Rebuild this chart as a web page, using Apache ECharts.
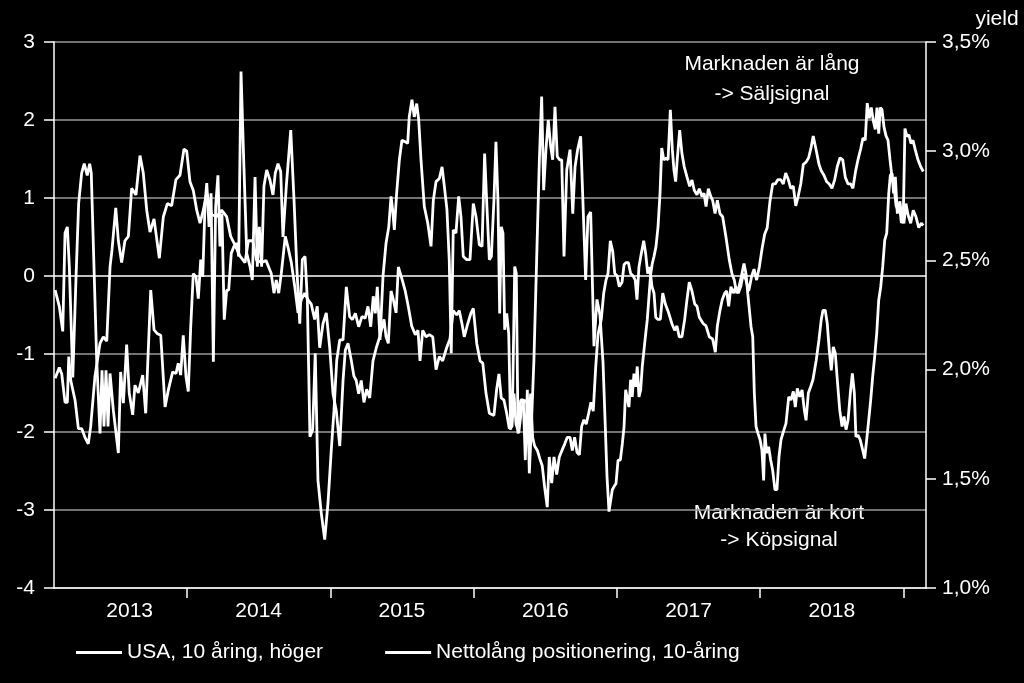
<!DOCTYPE html>
<html>
<head>
<meta charset="utf-8">
<title>Nettolång positionering, 10-åring</title>
<script src="https://cdn.jsdelivr.net/npm/echarts@6/dist/echarts.min.js"></script>
<style>
  html, body { margin: 0; padding: 0; background: #000; }
  #chart { width: 1024px; height: 683px; }
</style>
</head>
<body>
<div id="chart"></div>
<script>
'use strict';

// Decimal-year ticks / labels for the x axis
const yearTicks = [2014, 2015, 2016, 2017, 2018, 2019];
const yearLabelAt = [2013.6, 2014.5, 2015.5, 2016.5, 2017.5, 2018.5];

// Vänster axel: nettolång positionering (weekly)
const netPositioning = [
  [2013.080,-0.18],[2013.109,-0.39],[2013.133,-0.71],[2013.149,0.55],[2013.165,0.63],[2013.179,0.12],
  [2013.203,-1.30],[2013.226,0.00],[2013.244,0.93],[2013.265,1.32],[2013.283,1.44],[2013.304,1.29],
  [2013.321,1.44],[2013.332,1.32],[2013.370,-1.08],[2013.393,-2.02],[2013.407,-1.21],[2013.421,-1.93],
  [2013.435,-1.21],[2013.449,-1.93],[2013.463,-1.25],[2013.486,-1.72],[2013.521,-2.27],[2013.537,-1.23],
  [2013.556,-1.63],[2013.579,-0.88],[2013.597,-1.50],[2013.621,-1.78],[2013.637,-1.40],[2013.660,-1.50],
  [2013.691,-1.27],[2013.712,-1.76],[2013.747,-0.18],[2013.770,-0.69],[2013.793,-0.74],[2013.817,-0.76],
  [2013.847,-1.68],[2013.870,-1.46],[2013.900,-1.23],[2013.923,-1.25],[2013.939,-1.12],[2013.956,-1.27],
  [2013.974,-0.76],[2013.993,-1.29],[2014.009,-1.48],[2014.026,-0.65],[2014.044,0.03],[2014.063,-0.01],
  [2014.079,-0.29],[2014.096,0.21],[2014.110,-0.01],[2014.126,0.93],[2014.138,1.19],[2014.154,0.63],
  [2014.168,1.06],[2014.184,-1.10],[2014.200,0.89],[2014.216,1.29],[2014.230,0.38],[2014.244,0.80],
  [2014.260,-0.56],[2014.277,-0.18],[2014.291,-0.18],[2014.309,0.29],[2014.328,0.38],[2014.347,0.42],
  [2014.361,0.25],[2014.377,2.62],[2014.398,1.36],[2014.417,0.29],[2014.440,0.12],[2014.456,-0.05],
  [2014.475,1.27],[2014.491,0.12],[2014.505,0.63],[2014.521,0.12],[2014.537,1.15],[2014.556,1.36],
  [2014.579,1.23],[2014.600,1.04],[2014.616,1.32],[2014.635,1.44],[2014.654,1.34],[2014.670,0.50],
  [2014.693,1.15],[2014.724,1.87],[2014.747,0.97],[2014.766,0.12],[2014.787,-0.61],[2014.805,0.21],
  [2014.824,0.25],[2014.840,-0.31],[2014.858,-2.06],[2014.877,-1.97],[2014.895,-0.99],[2014.914,-2.62],
  [2014.937,-3.04],[2014.961,-3.38],[2014.984,-2.91],[2015.007,-2.23],[2015.026,-1.72],[2015.045,-1.08],
  [2015.066,-0.82],[2015.089,-0.82],[2015.112,-0.14],[2015.135,-0.52],[2015.154,-0.56],[2015.175,-0.48],
  [2015.198,-0.65],[2015.221,-0.52],[2015.244,-0.54],[2015.263,-0.39],[2015.282,-0.65],[2015.300,-0.26],
  [2015.314,-0.48],[2015.328,-0.14],[2015.347,-0.82],[2015.368,0.00],[2015.389,0.42],[2015.408,0.63],
  [2015.424,1.02],[2015.435,0.85],[2015.447,0.59],[2015.463,1.06],[2015.482,1.49],[2015.500,1.74],
  [2015.523,1.72],[2015.540,1.70],[2015.551,2.04],[2015.570,2.26],[2015.586,2.04],[2015.603,2.21],
  [2015.617,2.00],[2015.633,1.49],[2015.656,0.89],[2015.680,0.68],[2015.703,0.38],[2015.719,0.97],
  [2015.738,1.21],[2015.761,1.25],[2015.780,1.40],[2015.796,1.15],[2015.814,0.85],[2015.830,0.21],
  [2015.844,-0.99],[2015.858,0.59],[2015.877,0.55],[2015.896,1.02],[2015.912,0.76],[2015.928,0.25],
  [2015.952,0.21],[2015.975,0.21],[2015.998,0.93],[2016.017,0.76],[2016.040,0.40],[2016.059,0.38],
  [2016.077,1.57],[2016.091,0.97],[2016.110,0.21],[2016.124,0.25],[2016.142,0.97],[2016.156,1.72],
  [2016.170,0.97],[2016.182,-0.48],[2016.193,0.63],[2016.205,0.55],[2016.217,-0.69],[2016.231,-0.48],
  [2016.245,-0.74],[2016.259,-1.97],[2016.273,-1.50],[2016.287,0.12],[2016.298,0.03],[2016.310,-2.02],
  [2016.329,-1.59],[2016.347,-1.59],[2016.361,-2.36],[2016.375,-1.46],[2016.389,-2.53],[2016.403,-1.93],
  [2016.421,-1.08],[2016.440,0.21],[2016.459,1.49],[2016.475,2.30],[2016.489,1.10],[2016.505,1.62],
  [2016.521,2.00],[2016.538,1.66],[2016.552,1.49],[2016.568,2.17],[2016.584,1.53],[2016.601,1.49],
  [2016.615,1.49],[2016.631,0.25],[2016.650,1.36],[2016.673,1.62],[2016.692,0.80],[2016.708,1.40],
  [2016.726,1.62],[2016.747,1.79],[2016.765,0.85],[2016.782,-0.05],[2016.798,0.76],[2016.817,0.82],
  [2016.840,-0.90],[2016.861,-0.30],[2016.882,-0.50],[2016.903,-1.10],[2016.919,-1.93],[2016.931,-2.57],
  [2016.945,-3.02],[2016.957,-3.04],[2016.968,-2.74],[2016.980,-2.70],[2016.994,-2.66],[2017.008,-2.36],
  [2017.024,-2.36],[2017.038,-2.15],[2017.050,-1.93],[2017.061,-1.46],[2017.073,-1.46],[2017.084,-1.68],
  [2017.096,-1.33],[2017.107,-1.55],[2017.119,-1.25],[2017.131,-1.42],[2017.142,-1.16],[2017.154,-1.55],
  [2017.166,-1.46],[2017.177,-1.16],[2017.189,-0.95],[2017.201,-0.74],[2017.212,-0.56],[2017.224,-0.26],
  [2017.236,0.03],[2017.247,0.16],[2017.259,0.25],[2017.273,0.38],[2017.287,0.63],[2017.301,1.06],
  [2017.313,1.64],[2017.327,1.49],[2017.343,1.51],[2017.357,1.49],[2017.373,2.13],[2017.387,1.62],
  [2017.398,1.36],[2017.410,1.21],[2017.421,1.49],[2017.438,1.87],[2017.454,1.57],[2017.470,1.40],
  [2017.489,1.27],[2017.508,1.15],[2017.524,1.23],[2017.540,1.10],[2017.559,1.04],[2017.575,1.12],
  [2017.594,1.02],[2017.608,1.06],[2017.622,0.89],[2017.638,1.12],[2017.655,1.02],[2017.668,0.97],
  [2017.685,0.80],[2017.701,0.97],[2017.719,0.80],[2017.738,0.76],[2017.761,0.50],[2017.784,0.21],
  [2017.803,0.03],[2017.819,-0.05],[2017.836,-0.22],[2017.852,-0.14],[2017.868,-0.01],[2017.887,0.16],
  [2017.901,0.03],[2017.913,-0.22],[2017.924,-0.22],[2017.936,-0.65],[2017.948,-0.78],[2017.959,-1.50],
  [2017.971,-1.93],[2017.985,-2.02],[2017.999,-2.10],[2018.012,-2.23],[2018.024,-2.62],[2018.033,-2.02],
  [2018.045,-2.27],[2018.059,-2.19],[2018.073,-2.36],[2018.087,-2.49],[2018.103,-2.74],[2018.117,-2.74],
  [2018.131,-2.32],[2018.145,-2.10],[2018.161,-2.00],[2018.180,-1.89],[2018.199,-1.55],[2018.215,-1.59],
  [2018.231,-1.48],[2018.245,-1.68],[2018.259,-1.44],[2018.276,-1.55],[2018.292,-1.46],[2018.308,-1.72],
  [2018.320,-1.85],[2018.336,-1.50],[2018.352,-1.42],[2018.368,-1.33],[2018.391,-1.08],[2018.410,-0.82],
  [2018.426,-0.56],[2018.438,-0.44],[2018.454,-0.44],[2018.468,-0.61],[2018.482,-0.95],[2018.496,-1.21],
  [2018.510,-0.91],[2018.524,-0.99],[2018.538,-1.33],[2018.555,-1.72],[2018.571,-1.93],[2018.585,-1.80],
  [2018.599,-1.97],[2018.613,-1.85],[2018.629,-1.50],[2018.643,-1.25],[2018.657,-1.50],[2018.668,-2.06],
  [2018.682,-2.04],[2018.698,-2.10],[2018.715,-2.23],[2018.729,-2.34],[2018.743,-2.10],[2018.757,-1.85],
  [2018.771,-1.59],[2018.785,-1.29],[2018.799,-1.03],[2018.813,-0.74],[2018.827,-0.31],[2018.841,-0.14],
  [2018.855,0.12],[2018.869,0.46],[2018.883,0.55],[2018.897,1.06],[2018.908,1.29],[2018.920,1.32],
  [2018.931,1.06],[2018.943,1.27],[2018.957,0.80],[2018.971,0.93],[2018.985,0.68],[2018.998,0.72],
  [2019.010,1.89],[2019.024,1.79],[2019.038,1.81],[2019.052,1.70],[2019.066,1.74],[2019.082,1.62],
  [2019.101,1.49],[2019.120,1.40],[2019.138,1.34]
];

// Höger axel: USA 10-årig ränta, procent
const usaYield = [
  [2013.080,1.96],[2013.109,2.01],[2013.126,1.98],[2013.149,1.85],[2013.165,1.85],[2013.175,2.06],
  [2013.189,1.95],[2013.219,1.86],[2013.242,1.73],[2013.265,1.73],[2013.288,1.69],[2013.311,1.66],
  [2013.328,1.74],[2013.358,1.97],[2013.393,2.12],[2013.416,2.15],[2013.440,2.13],[2013.463,2.47],
  [2013.477,2.55],[2013.503,2.74],[2013.521,2.59],[2013.544,2.49],[2013.567,2.59],[2013.591,2.61],
  [2013.614,2.83],[2013.644,2.80],[2013.672,2.98],[2013.695,2.90],[2013.719,2.73],[2013.742,2.63],
  [2013.770,2.69],[2013.807,2.51],[2013.835,2.70],[2013.863,2.76],[2013.893,2.75],[2013.923,2.87],
  [2013.951,2.89],[2013.979,3.01],[2013.998,3.00],[2014.021,2.86],[2014.044,2.82],[2014.068,2.73],
  [2014.091,2.67],[2014.114,2.73],[2014.138,2.81],[2014.172,2.71],[2014.207,2.70],[2014.242,2.73],
  [2014.277,2.70],[2014.305,2.61],[2014.335,2.57],[2014.370,2.52],[2014.405,2.49],[2014.428,2.59],
  [2014.459,2.59],[2014.486,2.50],[2014.521,2.49],[2014.551,2.50],[2014.588,2.44],[2014.607,2.35],
  [2014.623,2.41],[2014.640,2.35],[2014.658,2.44],[2014.686,2.61],[2014.705,2.56],[2014.728,2.49],
  [2014.752,2.38],[2014.775,2.26],[2014.798,2.32],[2014.821,2.35],[2014.844,2.32],[2014.867,2.30],
  [2014.891,2.23],[2014.909,2.29],[2014.926,2.10],[2014.949,2.21],[2014.972,2.26],[2014.996,2.10],
  [2015.019,1.89],[2015.042,1.81],[2015.066,1.65],[2015.089,1.95],[2015.105,2.09],[2015.124,2.12],
  [2015.147,2.04],[2015.165,1.97],[2015.181,1.95],[2015.198,1.89],[2015.216,1.95],[2015.235,1.85],
  [2015.254,1.91],[2015.275,1.87],[2015.298,2.04],[2015.321,2.10],[2015.345,2.15],[2015.375,2.23],
  [2015.389,2.15],[2015.405,2.12],[2015.424,2.36],[2015.440,2.32],[2015.459,2.26],[2015.475,2.47],
  [2015.498,2.42],[2015.523,2.36],[2015.544,2.29],[2015.568,2.20],[2015.593,2.16],[2015.612,2.18],
  [2015.626,2.04],[2015.645,2.18],[2015.668,2.15],[2015.691,2.16],[2015.715,2.15],[2015.738,2.00],
  [2015.761,2.06],[2015.784,2.04],[2015.812,2.10],[2015.835,2.14],[2015.858,2.27],[2015.882,2.25],
  [2015.900,2.27],[2015.919,2.21],[2015.935,2.15],[2015.959,2.21],[2015.982,2.26],[2015.998,2.28],
  [2016.022,2.12],[2016.045,2.04],[2016.064,2.03],[2016.087,1.89],[2016.110,1.80],[2016.142,1.79],
  [2016.161,1.91],[2016.177,1.98],[2016.193,1.87],[2016.212,1.86],[2016.231,1.80],[2016.249,1.73],
  [2016.268,1.74],[2016.282,1.89],[2016.296,1.75],[2016.315,1.71],[2016.333,1.81],[2016.352,1.86],
  [2016.371,1.85],[2016.385,1.69],[2016.398,1.89],[2016.412,1.69],[2016.426,1.65],[2016.445,1.63],
  [2016.463,1.59],[2016.479,1.56],[2016.496,1.46],[2016.514,1.37],[2016.528,1.60],[2016.545,1.48],
  [2016.561,1.60],[2016.580,1.52],[2016.598,1.60],[2016.617,1.63],[2016.636,1.66],[2016.654,1.69],
  [2016.673,1.69],[2016.689,1.63],[2016.705,1.69],[2016.722,1.62],[2016.738,1.61],[2016.754,1.74],
  [2016.770,1.77],[2016.786,1.75],[2016.803,1.80],[2016.819,1.85],[2016.835,1.81],[2016.852,2.01],
  [2016.868,2.16],[2016.891,2.23],[2016.908,2.35],[2016.924,2.41],[2016.938,2.44],[2016.954,2.59],
  [2016.971,2.54],[2016.985,2.44],[2017.001,2.43],[2017.017,2.38],[2017.036,2.40],[2017.050,2.48],
  [2017.063,2.49],[2017.080,2.49],[2017.096,2.44],[2017.112,2.43],[2017.128,2.41],[2017.140,2.32],
  [2017.154,2.47],[2017.170,2.53],[2017.187,2.59],[2017.201,2.53],[2017.215,2.44],[2017.229,2.47],
  [2017.245,2.38],[2017.259,2.35],[2017.271,2.24],[2017.285,2.23],[2017.303,2.23],[2017.320,2.35],
  [2017.338,2.30],[2017.361,2.26],[2017.384,2.21],[2017.403,2.18],[2017.419,2.20],[2017.435,2.15],
  [2017.454,2.15],[2017.473,2.23],[2017.489,2.32],[2017.505,2.40],[2017.524,2.36],[2017.543,2.30],
  [2017.559,2.29],[2017.575,2.24],[2017.603,2.21],[2017.622,2.20],[2017.645,2.15],[2017.668,2.14],
  [2017.687,2.08],[2017.701,2.20],[2017.719,2.27],[2017.735,2.32],[2017.752,2.35],[2017.766,2.36],
  [2017.780,2.29],[2017.796,2.38],[2017.812,2.35],[2017.831,2.38],[2017.847,2.35],[2017.864,2.38],
  [2017.882,2.44],[2017.901,2.41],[2017.920,2.36],[2017.941,2.43],[2017.957,2.46],[2017.975,2.41],
  [2017.994,2.47],[2018.012,2.55],[2018.031,2.62],[2018.049,2.65],[2018.068,2.77],[2018.087,2.85],
  [2018.105,2.85],[2018.124,2.87],[2018.143,2.87],[2018.161,2.85],[2018.178,2.90],[2018.196,2.87],
  [2018.213,2.83],[2018.231,2.84],[2018.248,2.75],[2018.264,2.79],[2018.283,2.85],[2018.301,2.94],
  [2018.320,2.95],[2018.338,2.97],[2018.356,3.02],[2018.370,3.07],[2018.389,3.01],[2018.410,2.94],
  [2018.426,2.91],[2018.445,2.89],[2018.464,2.86],[2018.482,2.85],[2018.501,2.83],[2018.520,2.87],
  [2018.538,2.93],[2018.557,2.97],[2018.576,2.96],[2018.594,2.88],[2018.613,2.85],[2018.631,2.85],
  [2018.647,2.83],[2018.666,2.91],[2018.682,2.96],[2018.701,3.01],[2018.717,3.06],[2018.733,3.05],
  [2018.747,3.22],[2018.761,3.15],[2018.775,3.20],[2018.789,3.14],[2018.803,3.10],[2018.815,3.20],
  [2018.827,3.08],[2018.838,3.20],[2018.850,3.19],[2018.864,3.11],[2018.878,3.07],[2018.892,3.05],
  [2018.906,2.96],[2018.920,2.88],[2018.934,2.84],[2018.948,2.75],[2018.961,2.73],[2018.975,2.77],
  [2018.989,2.69],[2019.003,2.67],[2019.017,2.76],[2019.031,2.71],[2019.050,2.67],[2019.068,2.73],
  [2019.087,2.70],[2019.106,2.65],[2019.124,2.67],[2019.138,2.66]
];

const seriesNames = ['USA, 10 åring, höger', 'Nettolång positionering, 10-åring'];

const FONT = '"Liberation Sans", Arial, sans-serif';
const WHITE = '#ffffff';
const GRID_GREY = '#9a9a9a';

// -4 .. 3 : the zero line is drawn white, the rest grey
const splitColors = [GRID_GREY, GRID_GREY, GRID_GREY, GRID_GREY, WHITE, GRID_GREY, GRID_GREY, GRID_GREY];

function fmtPct(v) {
  return v.toFixed(1).replace('.', ',') + '%';
}

function annotation(text, x, y) {
  return {
    type: 'text',
    x,
    y,
    style: {
      text,
      fill: WHITE,
      font: `21px ${FONT}`,
      textAlign: 'center',
      textVerticalAlign: 'middle',
    },
  };
}

const chart = echarts.init(document.getElementById('chart'), null, { renderer: 'canvas' });

chart.setOption({
  backgroundColor: '#000',
  animation: false,
  textStyle: { fontFamily: FONT, color: WHITE },
  grid: { left: 54, right: 98, top: 42, bottom: 95 },
  legend: {
    data: seriesNames,
    left: 71,
    top: 637,
    icon: 'rect',
    itemWidth: 46,
    itemHeight: 3,
    itemGap: 62,
    textStyle: { color: WHITE, fontSize: 21, fontFamily: FONT },
  },
  xAxis: {
    type: 'value',
    min: 2013.072,
    max: 2019.157,
    axisLine: { show: true, onZero: false, lineStyle: { color: WHITE, width: 1.5 } },
    axisTick: { show: true, customValues: yearTicks, length: 10, lineStyle: { color: WHITE, width: 1.5 } },
    axisLabel: {
      customValues: yearLabelAt,
      formatter: (v) => String(Math.floor(v)),
      color: WHITE,
      fontSize: 21,
      fontFamily: FONT,
      margin: 13,
    },
    splitLine: { show: false },
  },
  yAxis: [
    {
      type: 'value',
      position: 'left',
      min: -4,
      max: 3,
      interval: 1,
      axisLine: { show: true, lineStyle: { color: WHITE, width: 1.5 } },
      axisTick: { show: true, length: 10, lineStyle: { color: WHITE, width: 1.5 } },
      axisLabel: { color: WHITE, fontSize: 21, fontFamily: FONT, margin: 19 },
      splitLine: { show: true, lineStyle: { color: splitColors, width: 1.5 } },
    },
    {
      type: 'value',
      position: 'right',
      min: 1,
      max: 3.5,
      interval: 0.5,
      axisLine: { show: true, lineStyle: { color: WHITE, width: 1.5 } },
      axisTick: { show: true, length: 10, lineStyle: { color: WHITE, width: 1.5 } },
      axisLabel: { color: WHITE, fontSize: 21, fontFamily: FONT, margin: 16, formatter: fmtPct },
      splitLine: { show: false },
    },
  ],
  series: [
    {
      name: seriesNames[0],
      type: 'line',
      yAxisIndex: 1,
      data: usaYield,
      showSymbol: false,
      lineStyle: { color: WHITE, width: 2.8 },
      itemStyle: { color: WHITE },
    },
    {
      name: seriesNames[1],
      type: 'line',
      yAxisIndex: 0,
      data: netPositioning,
      showSymbol: false,
      lineStyle: { color: WHITE, width: 2.8 },
      itemStyle: { color: WHITE },
    },
  ],
  graphic: [
    annotation('yield', 997, 19),
    annotation('Marknaden är lång', 772, 64),
    annotation('-> Säljsignal', 772, 94),
    annotation('Marknaden är kort', 779, 513),
    annotation('-> Köpsignal', 779, 540),
  ],
});
</script>
</body>
</html>
